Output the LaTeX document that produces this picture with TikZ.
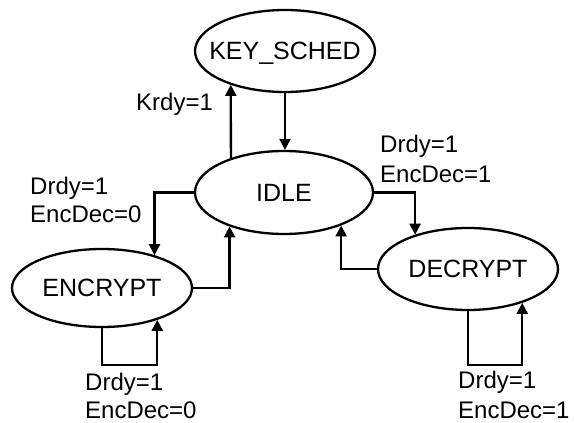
\documentclass[tikz,border=0pt]{standalone}
\usepackage{fontspec}
\setmainfont{Liberation Sans}
\usetikzlibrary{arrows.meta,shapes.geometric}
\begin{document}
\begin{tikzpicture}[x=1pt,y=1pt,
  state/.style={draw,shape=ellipse,line width=2.3pt,inner sep=0pt,
    font=\fontsize{25}{30}\selectfont,text height=17.5pt,text depth=0pt},
  conn/.style={line width=2.3pt,-{Triangle[length=11pt,width=11pt]}},
  lbl/.style={anchor=north west,inner sep=0pt,align=left,font=\fontsize{24}{28}\selectfont},
  lblw/.style={lbl,font=\fontsize{24}{29.5}\selectfont}]
\useasboundingbox (0,0) rectangle (574,423);
\node[state,minimum width=180pt,minimum height=82pt] (ks) at (285,372) {\makebox[0pt]{KEY\_SCHED}};
\node[state,minimum width=178pt,minimum height=83pt] (idle) at (284,230.5) {\makebox[0pt]{IDLE}};
\node[state,minimum width=180pt,minimum height=78pt] (enc) at (102,135) {\makebox[0pt]{ENCRYPT}};
\node[state,minimum width=180pt,minimum height=82pt] (dec) at (468,154) {\makebox[0pt]{DECRYPT}};
% IDLE -> KEY_SCHED
\draw[conn] (idle.147.06) -- (ks.212.0);
% KEY_SCHED -> IDLE
\draw[conn] (ks.south) -- (ks.south |- idle.north);
% IDLE -> ENCRYPT
\draw[conn] (idle.west) -| (enc.32.2);
% ENCRYPT -> IDLE
\draw[conn] (enc.east) -| (idle.212.94);
% IDLE -> DECRYPT
\draw[conn] (idle.east) -| (dec.147.2);
% DECRYPT -> IDLE
\draw[conn] (dec.west) -| (idle.330.8);
% self loops
\draw[conn] (enc.south) -- ++(0,-37) -| (enc.330);
\draw[conn] (dec.south) -- ++(0,-54) -| (dec.328.7);
% labels
\node[lbl] (lk) at (136,330) {Krdy=1};
\node[lblw] (ltr) at (380,288) {Drdy=1\\EncDec=1};
\node[lbl] (ltl) at (30,246) {Drdy=1\\EncDec=0};
\node[lbl] (lbl1) at (85,50) {Drdy=1\\EncDec=0};
\node[lblw] (lbr) at (458,52) {Drdy=1\\EncDec=1};
\end{tikzpicture}
\end{document}
